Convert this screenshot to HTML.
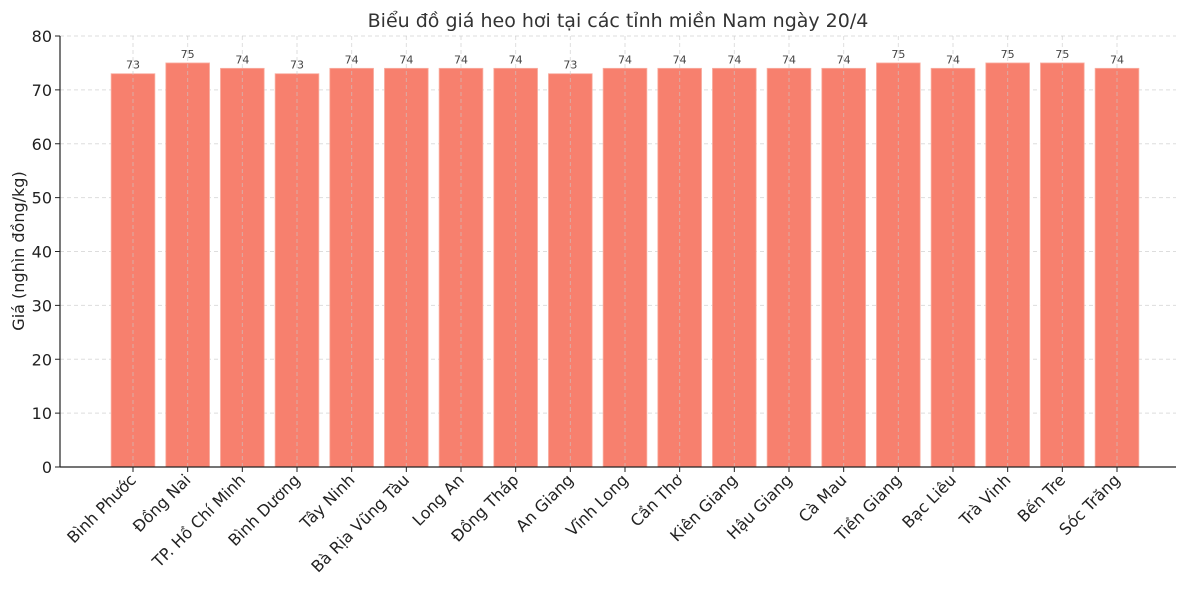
<!DOCTYPE html>
<html><head><meta charset="utf-8"><style>
body{margin:0;background:#fff}
svg{display:block;font-family:"DejaVu Sans","Liberation Sans",sans-serif}
</style></head><body>
<svg id="chart" width="1200" height="595" viewBox="0 0 1200 595" xmlns="http://www.w3.org/2000/svg">
<rect width="1200" height="595" fill="#fff"/>
<text x="618" y="27" text-anchor="middle" font-size="19" fill="#333">Biểu đồ giá heo hơi tại các tỉnh miền Nam ngày 20/4</text>
<text transform="translate(24,251) rotate(-90)" text-anchor="middle" font-size="16" fill="#222">Giá (nghìn đồng/kg)</text>
<g id="grid"></g><g id="bars"></g><g id="vgrid"></g><g id="axes"></g><g id="labels"></g>
</svg>
<script>
const categories=["Bình Phước","Đồng Nai","TP. Hồ Chí Minh","Bình Dương","Tây Ninh","Bà Rịa  Vũng Tàu","Long An","Đồng Tháp","An Giang","Vĩnh Long","Cần Thơ","Kiên Giang","Hậu Giang","Cà Mau","Tiền Giang","Bạc Liêu","Trà Vinh","Bến Tre","Sóc Trăng"];
const values=[73,75,74,73,74,74,74,74,73,74,74,74,74,74,75,74,75,75,74];
const yTicks=[0,10,20,30,40,50,60,70,80];
const NS="http://www.w3.org/2000/svg";
const X0=60,X1=1176,Y0=467,Y1=36;
const step=(1117-133)/18;
const xc=i=>133+step*i;
const y=v=>Y0-(v/80)*(Y0-Y1);
function mk(t,a,p){const e=document.createElementNS(NS,t);for(const k in a)e.setAttribute(k,a[k]);p.appendChild(e);return e;}
const grid=document.getElementById('grid'),bars=document.getElementById('bars'),vg=document.getElementById('vgrid'),axes=document.getElementById('axes'),lab=document.getElementById('labels');
yTicks.forEach(t=>{
  const l=mk('line',{x1:X0,x2:X1,y1:y(t),y2:y(t),stroke:'#ddd','stroke-dasharray':'4,3','stroke-width':1},grid);
  
  
  const tk=mk('line',{x1:X0-5,x2:X0,y1:y(t),y2:y(t),stroke:'#222'},axes);
  
  
  const tx=mk('text',{x:X0-8,y:y(t)+6,'text-anchor':'end','font-size':16,fill:'#222'},axes);
  tx.textContent=t;
  
  
});
const bw=step*0.8;
values.forEach((v,i)=>{
  const r=mk('rect',{x:xc(i)-bw/2,y:y(v),width:bw,height:Y0-y(v),fill:'#f7806e',stroke:'#f9b0a4','stroke-width':0.8},bars);
  
  
  const g=mk('line',{x1:xc(i),x2:xc(i),y1:Y1,y2:Y0,stroke:'rgba(200,200,200,0.6)','stroke-dasharray':'4,3'},vg);
  
  
  const vt=mk('text',{x:xc(i),y:y(v)-5,'text-anchor':'middle','font-size':11,fill:'#444'},lab);
  vt.textContent=v;
  
  
  const tk=mk('line',{x1:xc(i),x2:xc(i),y1:Y0,y2:Y0+5,stroke:'#222'},axes);
  
  
  const ct=mk('text',{transform:`translate(${xc(i)+4},${Y0+14}) rotate(-45)`,'text-anchor':'end','font-size':16,fill:'#222'},lab);
  ct.textContent=categories[i];
  
  
});
const ax=mk('line',{x1:X0,x2:X0,y1:Y1,y2:Y0,stroke:'#222','stroke-width':1.2},axes);


const bx=mk('line',{x1:X0,x2:X1,y1:Y0,y2:Y0,stroke:'#222','stroke-width':1.2},axes);


</script>
</body></html>
